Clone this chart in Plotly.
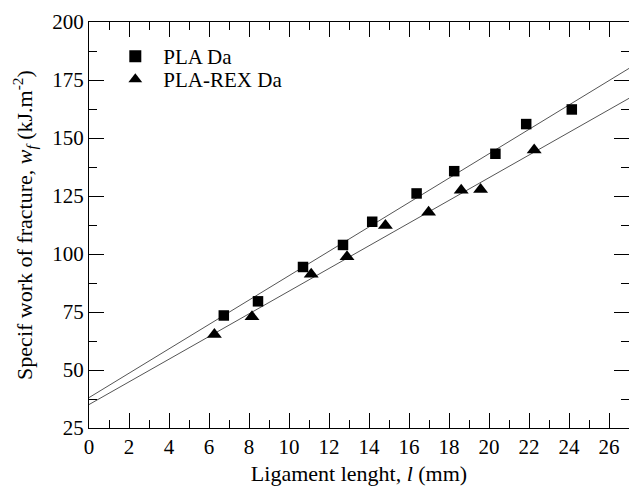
import plotly.graph_objects as go

pla_x = [6.74, 8.45, 10.7, 12.7, 14.16, 16.38, 18.26, 20.32, 21.86, 24.14]
pla_y = [73.5, 79.6, 94.4, 103.9, 113.9, 126.1, 135.7, 143.2, 156.0, 162.3]
rex_x = [6.27, 8.15, 11.11, 12.9, 14.82, 16.98, 18.61, 19.58, 22.26]
rex_y = [65.3, 72.9, 91.3, 98.8, 112.3, 118.0, 127.5, 127.8, 144.8]
fit_x = [0, 27]
pla_fit = [38.1, 180.0]
rex_fit = [35.1, 167.1]

FONT = "Liberation Serif"

fig = go.Figure()
fig.add_trace(go.Scatter(x=fit_x, y=pla_fit, mode="lines",
                         line=dict(color="#555555", width=1), showlegend=False))
fig.add_trace(go.Scatter(x=fit_x, y=rex_fit, mode="lines",
                         line=dict(color="#555555", width=1), showlegend=False))
fig.add_trace(go.Scatter(x=pla_x, y=pla_y, mode="markers", name="PLA Da", legend="legend",
                         marker=dict(symbol="square", size=10.5, color="black")))
fig.add_trace(go.Scatter(x=rex_x, y=rex_y, mode="markers", name="PLA-REX Da", legend="legend2",
                         marker=dict(symbol="triangle-up", size=13, color="black")))

axis_common = dict(showline=True, linecolor="black", linewidth=1, mirror="allticks",
                   ticks="inside", ticklen=15, tickwidth=1.3, tickcolor="black",
                   showgrid=False, zeroline=False,
                   tickfont=dict(family=FONT, size=21, color="black"))

leg_common = dict(xanchor="left", yanchor="top", bgcolor="rgba(0,0,0,0)", borderwidth=0,
                  font=dict(family=FONT, size=21, color="black"),
                  itemsizing="constant", itemwidth=46)

fig.update_layout(
    width=629, height=486,
    margin=dict(l=89, r=0, t=22, b=58),
    paper_bgcolor="white", plot_bgcolor="white",
    font=dict(family=FONT, size=21, color="black"),
    showlegend=True,
    legend=dict(x=0.0339, y=0.9655, **leg_common),
    legend2=dict(x=0.0339, y=0.9089, **leg_common),
    xaxis=dict(range=[0, 27], dtick=2, tick0=0,
               minor=dict(dtick=1, ticklen=8, ticks="inside", tickcolor="black", tickwidth=1.3),
               title=dict(text="Ligament lenght, <i>l</i> (mm)",
                          font=dict(family=FONT, size=22, color="black"), standoff=8),
               **axis_common),
    yaxis=dict(range=[25, 200], dtick=25, tick0=25,
               minor=dict(dtick=12.5, ticklen=8, ticks="inside", tickcolor="black", tickwidth=1.3),
               title=dict(text="Specif work of fracture, <i>w<sub>f</sub></i> (kJ.m<sup>-2</sup>)",
                          font=dict(family=FONT, size=22, color="black"), standoff=13),
               **axis_common),
)

fig.write_html("out.html")
